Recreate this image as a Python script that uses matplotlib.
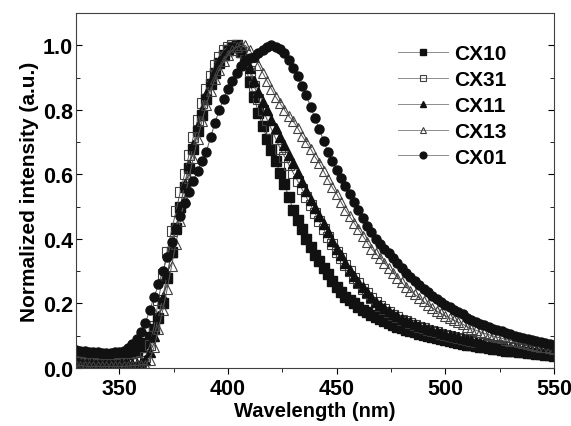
import numpy as np
import matplotlib.pyplot as plt

plt.rcParams['font.family'] = ['Liberation Sans', 'DejaVu Sans']
plt.rcParams['font.weight'] = 'bold'

# wavelength grid (nm), one reading every 2 nm
wavelength = np.arange(330, 551, 2)

cx10 = [0.035, 0.034, 0.033, 0.032, 0.031, 0.030, 0.030, 0.030, 0.031, 0.033,
        0.035, 0.038, 0.042, 0.047, 0.055, 0.065, 0.078, 0.095, 0.120, 0.155,
        0.200, 0.280, 0.360, 0.435, 0.500, 0.560, 0.620, 0.680, 0.735, 0.785,
        0.835, 0.880, 0.915, 0.945, 0.970, 0.985, 0.995, 1.000, 0.980, 0.940,
        0.885, 0.840, 0.790, 0.750, 0.710, 0.675, 0.640, 0.605, 0.570, 0.530,
        0.490, 0.460, 0.430, 0.400, 0.375, 0.350, 0.330, 0.310, 0.290, 0.270,
        0.250, 0.235, 0.220, 0.210, 0.200, 0.190, 0.180, 0.172, 0.165, 0.158,
        0.152, 0.146, 0.140, 0.134, 0.128, 0.123, 0.118, 0.114, 0.110, 0.106,
        0.102, 0.098, 0.095, 0.092, 0.089, 0.086, 0.083, 0.080, 0.077, 0.075,
        0.072, 0.070, 0.068, 0.066, 0.064, 0.062, 0.060, 0.058, 0.056, 0.054,
        0.052, 0.051, 0.049, 0.048, 0.046, 0.045, 0.043, 0.042, 0.040, 0.039,
        0.038]

cx31 = [0.020, 0.018, 0.016, 0.015, 0.014, 0.013, 0.013, 0.013, 0.013, 0.013,
        0.014, 0.014, 0.015, 0.016, 0.018, 0.022, 0.035, 0.070, 0.130, 0.210,
        0.290, 0.360, 0.425, 0.485, 0.545, 0.600, 0.660, 0.715, 0.770, 0.820,
        0.865, 0.905, 0.940, 0.965, 0.985, 0.995, 1.000, 0.995, 0.980, 0.955,
        0.920, 0.875, 0.835, 0.800, 0.770, 0.740, 0.710, 0.680, 0.655, 0.630,
        0.605, 0.580, 0.555, 0.530, 0.505, 0.480, 0.455, 0.430, 0.405, 0.385,
        0.360, 0.340, 0.320, 0.300, 0.280, 0.262, 0.246, 0.232, 0.218, 0.205,
        0.193, 0.182, 0.173, 0.165, 0.157, 0.150, 0.144, 0.138, 0.133, 0.128,
        0.123, 0.118, 0.114, 0.110, 0.106, 0.102, 0.099, 0.096, 0.093, 0.090,
        0.087, 0.084, 0.081, 0.079, 0.076, 0.074, 0.072, 0.070, 0.068, 0.066,
        0.064, 0.062, 0.060, 0.058, 0.056, 0.054, 0.053, 0.051, 0.050, 0.048,
        0.047]

cx11 = [0.012, 0.011, 0.010, 0.010, 0.010, 0.010, 0.010, 0.010, 0.010, 0.010,
        0.010, 0.010, 0.011, 0.012, 0.013, 0.016, 0.025, 0.050, 0.100, 0.160,
        0.220, 0.290, 0.360, 0.430, 0.500, 0.570, 0.630, 0.690, 0.750, 0.800,
        0.850, 0.890, 0.920, 0.950, 0.970, 0.985, 0.995, 1.000, 0.990, 0.965,
        0.930, 0.890, 0.855, 0.825, 0.800, 0.770, 0.745, 0.715, 0.690, 0.660,
        0.635, 0.605, 0.575, 0.550, 0.520, 0.495, 0.470, 0.445, 0.420, 0.395,
        0.370, 0.350, 0.325, 0.305, 0.285, 0.265, 0.250, 0.235, 0.220, 0.205,
        0.195, 0.185, 0.176, 0.168, 0.160, 0.153, 0.147, 0.141, 0.136, 0.131,
        0.126, 0.121, 0.117, 0.113, 0.109, 0.105, 0.101, 0.098, 0.095, 0.092,
        0.089, 0.086, 0.083, 0.080, 0.077, 0.075, 0.072, 0.070, 0.068, 0.066,
        0.064, 0.062, 0.060, 0.058, 0.056, 0.054, 0.052, 0.050, 0.049, 0.047,
        0.046]

cx13 = [0.008, 0.007, 0.006, 0.005, 0.005, 0.005, 0.005, 0.005, 0.005, 0.005,
        0.005, 0.005, 0.006, 0.007, 0.008, 0.010, 0.010, 0.025, 0.065, 0.120,
        0.180, 0.245, 0.315, 0.385, 0.455, 0.525, 0.590, 0.650, 0.710, 0.765,
        0.815, 0.860, 0.895, 0.925, 0.950, 0.970, 0.985, 0.995, 1.000, 1.000,
        0.985, 0.965, 0.940, 0.915, 0.890, 0.865, 0.840, 0.820, 0.800, 0.780,
        0.765, 0.745, 0.720, 0.700, 0.680, 0.655, 0.635, 0.610, 0.585, 0.560,
        0.540, 0.515, 0.490, 0.470, 0.450, 0.430, 0.410, 0.390, 0.370, 0.355,
        0.340, 0.325, 0.310, 0.295, 0.280, 0.265, 0.250, 0.240, 0.228, 0.217,
        0.206, 0.196, 0.186, 0.177, 0.169, 0.162, 0.155, 0.148, 0.142, 0.136,
        0.128, 0.122, 0.117, 0.112, 0.107, 0.103, 0.099, 0.095, 0.092, 0.088,
        0.085, 0.082, 0.079, 0.076, 0.073, 0.071, 0.068, 0.066, 0.064, 0.062,
        0.060]

cx01 = [0.055, 0.053, 0.051, 0.050, 0.049, 0.048, 0.047, 0.047, 0.047, 0.048,
        0.050, 0.053, 0.063, 0.075, 0.090, 0.110, 0.140, 0.180, 0.220, 0.260,
        0.300, 0.345, 0.390, 0.430, 0.470, 0.510, 0.545, 0.580, 0.610, 0.640,
        0.670, 0.715, 0.760, 0.800, 0.835, 0.865, 0.890, 0.915, 0.935, 0.950,
        0.960, 0.965, 0.975, 0.985, 0.995, 1.000, 0.995, 0.990, 0.975, 0.955,
        0.930, 0.905, 0.875, 0.845, 0.810, 0.775, 0.740, 0.705, 0.670, 0.640,
        0.615, 0.590, 0.565, 0.540, 0.515, 0.490, 0.465, 0.440, 0.420, 0.400,
        0.385, 0.370, 0.355, 0.340, 0.325, 0.310, 0.295, 0.282, 0.270, 0.258,
        0.246, 0.235, 0.224, 0.214, 0.205, 0.196, 0.188, 0.180, 0.173, 0.166,
        0.155, 0.149, 0.143, 0.137, 0.132, 0.127, 0.122, 0.117, 0.113, 0.109,
        0.104, 0.100, 0.097, 0.093, 0.090, 0.087, 0.084, 0.081, 0.078, 0.075,
        0.072]

labels = ['CX10', 'CX31', 'CX11', 'CX13', 'CX01']
series = [cx10, cx31, cx11, cx13, cx01]
markers = ['s', 's', '^', '^', 'o']
filled = [True, False, True, False, True]

fig = plt.figure(figsize=(5.71, 4.27), dpi=100)
ax = fig.add_axes([0.133, 0.136, 0.837, 0.831])

for lab, y, m, f in zip(labels, series, markers, filled):
    if f:
        ax.plot(wavelength, y, color='0.35', lw=0.7, marker=m, markersize=6.5,
                markerfacecolor='#111111', markeredgecolor='#111111', label=lab)
    else:
        ax.plot(wavelength, y, color='0.35', lw=0.7, marker=m, markersize=6.5,
                markerfacecolor='none', markeredgecolor='0.25', markeredgewidth=0.8,
                label=lab)

ax.set_xlim(330, 550)
ax.set_ylim(0, 1.1)
ax.set_xticks([350, 400, 450, 500, 550])
ax.set_xticks([375, 425, 475, 525], minor=True)
ax.set_yticks([0.0, 0.2, 0.4, 0.6, 0.8, 1.0])
ax.set_yticks([0.1, 0.3, 0.5, 0.7, 0.9], minor=True)
ax.tick_params(axis='x', which='both', direction='out', labelsize=15.5)
ax.tick_params(axis='x', which='major', length=4)
ax.tick_params(axis='x', which='minor', length=3)
ax.tick_params(axis='y', which='both', direction='in', right=True, labelsize=15.5)
ax.tick_params(axis='y', which='major', length=4, pad=2)
ax.tick_params(axis='y', which='minor', length=3)
for lbl in ax.get_xticklabels() + ax.get_yticklabels():
    lbl.set_fontweight('bold')
for s in ax.spines.values():
    s.set_color('0.25')

ax.set_xlabel('Wavelength (nm)', fontsize=14.5, fontweight='bold', labelpad=1)
ax.set_ylabel('Normalized intensity (a.u.)', fontsize=15, fontweight='bold', labelpad=3)

leg = ax.legend(loc='upper left', bbox_to_anchor=(0.635, 0.965), frameon=False,
                handlelength=2.4, labelspacing=0.33, handletextpad=0.3,
                markerscale=0.75, prop={'weight': 'bold', 'size': 15})
for h in leg.get_lines():
    h.set_color('0.55')

plt.savefig('out.png', dpi=100)
